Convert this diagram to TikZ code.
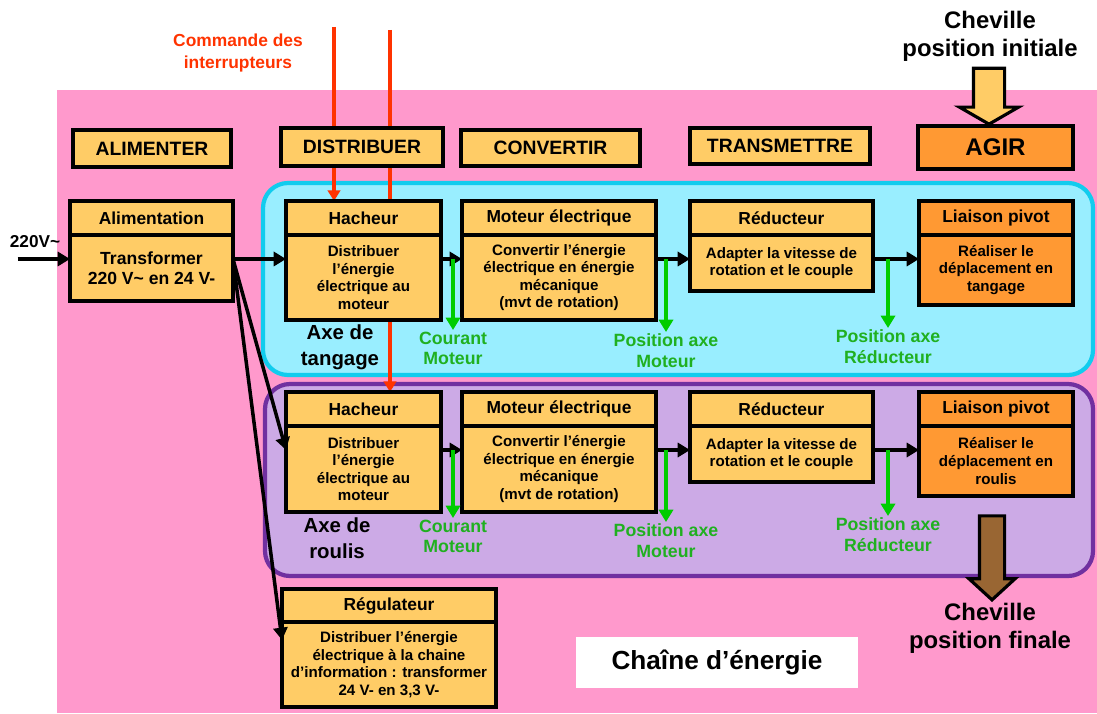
\documentclass[tikz,border=0pt]{standalone}
\usepackage{fontspec}
\setmainfont{Liberation Sans}
\usepackage{tikz}
\usetikzlibrary{arrows.meta, shapes.arrows, positioning, calc, backgrounds}

\definecolor{rose}{HTML}{FF99CC}
\definecolor{jaune}{HTML}{FFCC66}
\definecolor{orangeagir}{HTML}{FF9933}
\definecolor{cyanfond}{HTML}{99EEFF}
\definecolor{cyanbord}{HTML}{11CCEE}
\definecolor{violetfond}{HTML}{CCAAE6}
\definecolor{violetbord}{HTML}{7030A0}
\definecolor{rouge}{HTML}{FF3300}
\definecolor{vert}{HTML}{00CC00}
\definecolor{vertlegende}{HTML}{20B020}
\definecolor{brun}{HTML}{996633}

\tikzset{
  bloc/.style={draw, line width=2pt, fill=jaune, inner sep=0pt, outer sep=0pt, align=center},
  titre/.style={bloc, font=\fontsize{9.9}{11}\selectfont\bfseries},
  corps/.style={bloc, font=\fontsize{8.6}{10}\selectfont\bfseries},
  entete/.style={bloc, font=\fontsize{11}{12}\selectfont\bfseries},
  fleche/.style={line width=2pt, -{Triangle[length=7pt,width=8pt]}},
  mesure/.style={fleche, draw=vert, -{Triangle[length=7pt,width=8pt,fill=vert]}},
  commande/.style={line width=1.8pt, draw=rouge, -{Triangle[length=6pt,width=7pt,fill=rouge]}},
  legende/.style={text=vertlegende, align=center, inner sep=1pt, font=\fontsize{10.1}{11.4}\selectfont\bfseries},
  axe/.style={align=center, font=\fontsize{11.6}{14.8}\selectfont\bfseries},
  grand/.style={align=center, font=\fontsize{13.6}{15.8}\selectfont\bfseries},
}

\begin{document}
\begin{tikzpicture}[x=0.02cm, y=-0.02cm]
  \useasboundingbox (0,0) rectangle (1097,713);

  % en-tetes des fonctions
  \node[entete, minimum width=3.16cm, minimum height=0.74cm, anchor=north west] (Alimenter) at (73,130) {ALIMENTER};
  \node[entete, minimum width=3.24cm, minimum height=0.76cm, anchor=north west] (Distribuer) at (281,128) {DISTRIBUER};
  \node[entete, minimum width=3.58cm, minimum height=0.72cm, anchor=north west] (Convertir) at (461,130) {CONVERTIR};
  \node[entete, minimum width=3.6cm, minimum height=0.72cm, anchor=north west] (Transmettre) at (690,128) {TRANSMETTRE};
  \node[entete, fill=orangeagir, minimum width=3.1cm, minimum height=0.86cm, anchor=north west,
        font=\fontsize{13.7}{15}\selectfont\bfseries] (Agir) at (918,126) {AGIR};

  % alimentation
  \node[titre, minimum width=3.26cm, minimum height=0.68cm, anchor=north west] (Alim) at (70,201) {Alimentation};
  \node[bloc, minimum width=3.26cm, minimum height=1.32cm, below=0pt of Alim,
        font=\fontsize{10}{11.6}\selectfont\bfseries] (AlimTxt) {Transformer\\220 V\textasciitilde{} en 24 V-};

  % axe de tangage
  \node[titre, minimum width=3.1cm, minimum height=0.68cm, anchor=north west] (Hach1) at (286,201) {Hacheur};
  \node[corps, minimum width=3.1cm, minimum height=1.7cm, below=0pt of Hach1] (Hach1Txt) {Distribuer\\l’énergie\\électrique au\\moteur};
  \node[titre, minimum width=3.88cm, minimum height=0.68cm, anchor=north west] (Mot1) at (462,201) {Moteur électrique};
  \node[corps, minimum width=3.88cm, minimum height=1.7cm, below=0pt of Mot1] (Mot1Txt) {Convertir l’énergie\\électrique en énergie\\mécanique\\(mvt de rotation)};
  \node[titre, minimum width=3.66cm, minimum height=0.68cm, anchor=north west] (Red1) at (690,201) {Réducteur};
  \node[corps, minimum width=3.66cm, minimum height=1.12cm, below=0pt of Red1] (Red1Txt) {Adapter la vitesse de\\rotation et le couple};
  \node[titre, fill=orangeagir, minimum width=3.08cm, minimum height=0.68cm, anchor=north west] (Piv1) at (919,201) {Liaison pivot};
  \node[corps, fill=orangeagir, minimum width=3.08cm, minimum height=1.4cm, below=0pt of Piv1] (Piv1Txt) {Réaliser le\\déplacement en\\tangage};

  % axe de roulis
  \node[titre, minimum width=3.1cm, minimum height=0.68cm, anchor=north west] (Hach2) at (286,392) {Hacheur};
  \node[corps, minimum width=3.1cm, minimum height=1.72cm, below=0pt of Hach2] (Hach2Txt) {Distribuer\\l’énergie\\électrique au\\moteur};
  \node[titre, minimum width=3.88cm, minimum height=0.68cm, anchor=north west] (Mot2) at (462,392) {Moteur électrique};
  \node[corps, minimum width=3.88cm, minimum height=1.72cm, below=0pt of Mot2] (Mot2Txt) {Convertir l’énergie\\électrique en énergie\\mécanique\\(mvt de rotation)};
  \node[titre, minimum width=3.66cm, minimum height=0.68cm, anchor=north west] (Red2) at (690,392) {Réducteur};
  \node[corps, minimum width=3.66cm, minimum height=1.12cm, below=0pt of Red2] (Red2Txt) {Adapter la vitesse de\\rotation et le couple};
  \node[titre, fill=orangeagir, minimum width=3.08cm, minimum height=0.68cm, anchor=north west] (Piv2) at (919,392) {Liaison pivot};
  \node[corps, fill=orangeagir, minimum width=3.08cm, minimum height=1.4cm, below=0pt of Piv2] (Piv2Txt) {Réaliser le\\déplacement en\\roulis};

  % regulateur
  \node[titre, minimum width=4.28cm, minimum height=0.66cm, anchor=north west] (Reg) at (282,589) {Régulateur};
  \node[corps, minimum width=4.28cm, minimum height=1.7cm, below=0pt of Reg] (RegTxt) {Distribuer l’énergie\\électrique à la chaine\\d’information : transformer\\24 V- en 3,3 V-};

  % fonds et commandes
  \coordinate (Cmd1) at (334,27);
  \coordinate (Cmd2) at (390,30);
  \begin{scope}[on background layer]
    \fill[rose] (57,90) rectangle (1097,713);
    \draw[line width=2.4pt, draw=cyanbord, fill=cyanfond, rounded corners=0.5cm] (263,183) rectangle (1093,375);
    \draw[line width=2.4pt, draw=violetbord, fill=violetfond, rounded corners=0.5cm] (265,384) rectangle (1093,576);
    \draw[commande] (Cmd1) -- (Cmd1 |- Hach1.north);
    \draw[commande] (Cmd2) -- (Cmd2 |- Hach2.north);
  \end{scope}
  \node[text=rouge, align=center, font=\fontsize{9.9}{12}\selectfont\bfseries] (Commande) at (238,53) {Commande des\\interrupteurs};

  % entree secteur
  \node[font=\fontsize{9.8}{11}\selectfont\bfseries] (Secteur) at (35,242) {220V\textasciitilde};
  \coordinate (SecteurIn) at (18,259);
  \draw[fleche] (SecteurIn) -- ([yshift=-0.48cm]AlimTxt.north west);

  % chaine de puissance
  \draw[fleche] ([yshift=-0.48cm]AlimTxt.north east) -- ([yshift=-0.48cm]Hach1Txt.north west);
  \draw[fleche] ([yshift=-0.48cm]AlimTxt.north east) -- ([yshift=-0.48cm]Hach2Txt.north west);
  \draw[fleche] ([yshift=-0.48cm]AlimTxt.north east) -- ([yshift=-0.36cm]RegTxt.north west);
  \draw[fleche] ([yshift=-0.48cm]Hach1Txt.north east) -- ([yshift=-0.48cm]Mot1Txt.north west);
  \draw[fleche] ([yshift=-0.48cm]Mot1Txt.north east) -- ([yshift=-0.48cm]Red1Txt.north west);
  \draw[fleche] ([yshift=-0.48cm]Red1Txt.north east) -- ([yshift=-0.48cm]Piv1Txt.north west);
  \draw[fleche] ([yshift=-0.48cm]Hach2Txt.north east) -- ([yshift=-0.48cm]Mot2Txt.north west);
  \draw[fleche] ([yshift=-0.48cm]Mot2Txt.north east) -- ([yshift=-0.48cm]Red2Txt.north west);
  \draw[fleche] ([yshift=-0.48cm]Red2Txt.north east) -- ([yshift=-0.48cm]Piv2Txt.north west);

  % mesures
  \node[legende, anchor=north] (Cour1) at (453,330) {Courant\\Moteur};
  \node[legende, anchor=north] (PosMot1) at (666,332) {Position axe\\Moteur};
  \node[legende, anchor=north] (PosRed1) at (888,328) {Position axe\\Réducteur};
  \node[legende, anchor=north] (Cour2) at (453,518) {Courant\\Moteur};
  \node[legende, anchor=north] (PosMot2) at (666,522) {Position axe\\Moteur};
  \node[legende, anchor=north] (PosRed2) at (888,516) {Position axe\\Réducteur};
  \draw[mesure] ($(Cour1.north |- Hach1Txt.north)+(0,24)$) -- (Cour1.north);
  \draw[mesure] ($(PosMot1.north |- Mot1Txt.north)+(0,24)$) -- (PosMot1.north);
  \draw[mesure] ($(PosRed1.north |- Red1Txt.north)+(0,24)$) -- (PosRed1.north);
  \draw[mesure] ($(Cour2.north |- Hach2Txt.north)+(0,24)$) -- (Cour2.north);
  \draw[mesure] ($(PosMot2.north |- Mot2Txt.north)+(0,24)$) -- (PosMot2.north);
  \draw[mesure] ($(PosRed2.north |- Red2Txt.north)+(0,24)$) -- (PosRed2.north);

  \node[axe] (Axe1) at (340,347) {Axe de\\tangage};
  \node[axe] (Axe2) at (337,538) {Axe de\\roulis};

  % cheville
  \node[grand] (Init) at (990,36) {Cheville\\position initiale};
  \node[single arrow, draw, line width=1.8pt, fill=jaune, rotate=-90, anchor=tip,
        minimum height=1.12cm, minimum width=1.12cm, inner sep=0.28cm,
        single arrow head extend=0.28cm, single arrow tip angle=120] (FlecheInit) at (989,126) {};
  \node[single arrow, draw, line width=1.8pt, fill=brun, rotate=-90, anchor=tip,
        minimum height=1.68cm, minimum width=0.86cm, inner sep=0.22cm,
        single arrow head extend=0.21cm, single arrow tip angle=95] (FlecheFin) at (992,602) {};
  \node[grand] (Finale) at (990,628) {Cheville\\position finale};

  \node[fill=white, minimum width=5.66cm, minimum height=1.02cm,
        font=\fontsize{14.9}{16}\selectfont\bfseries] (Chaine) at (717,662) {Chaîne d’énergie};
\end{tikzpicture}
\end{document}
